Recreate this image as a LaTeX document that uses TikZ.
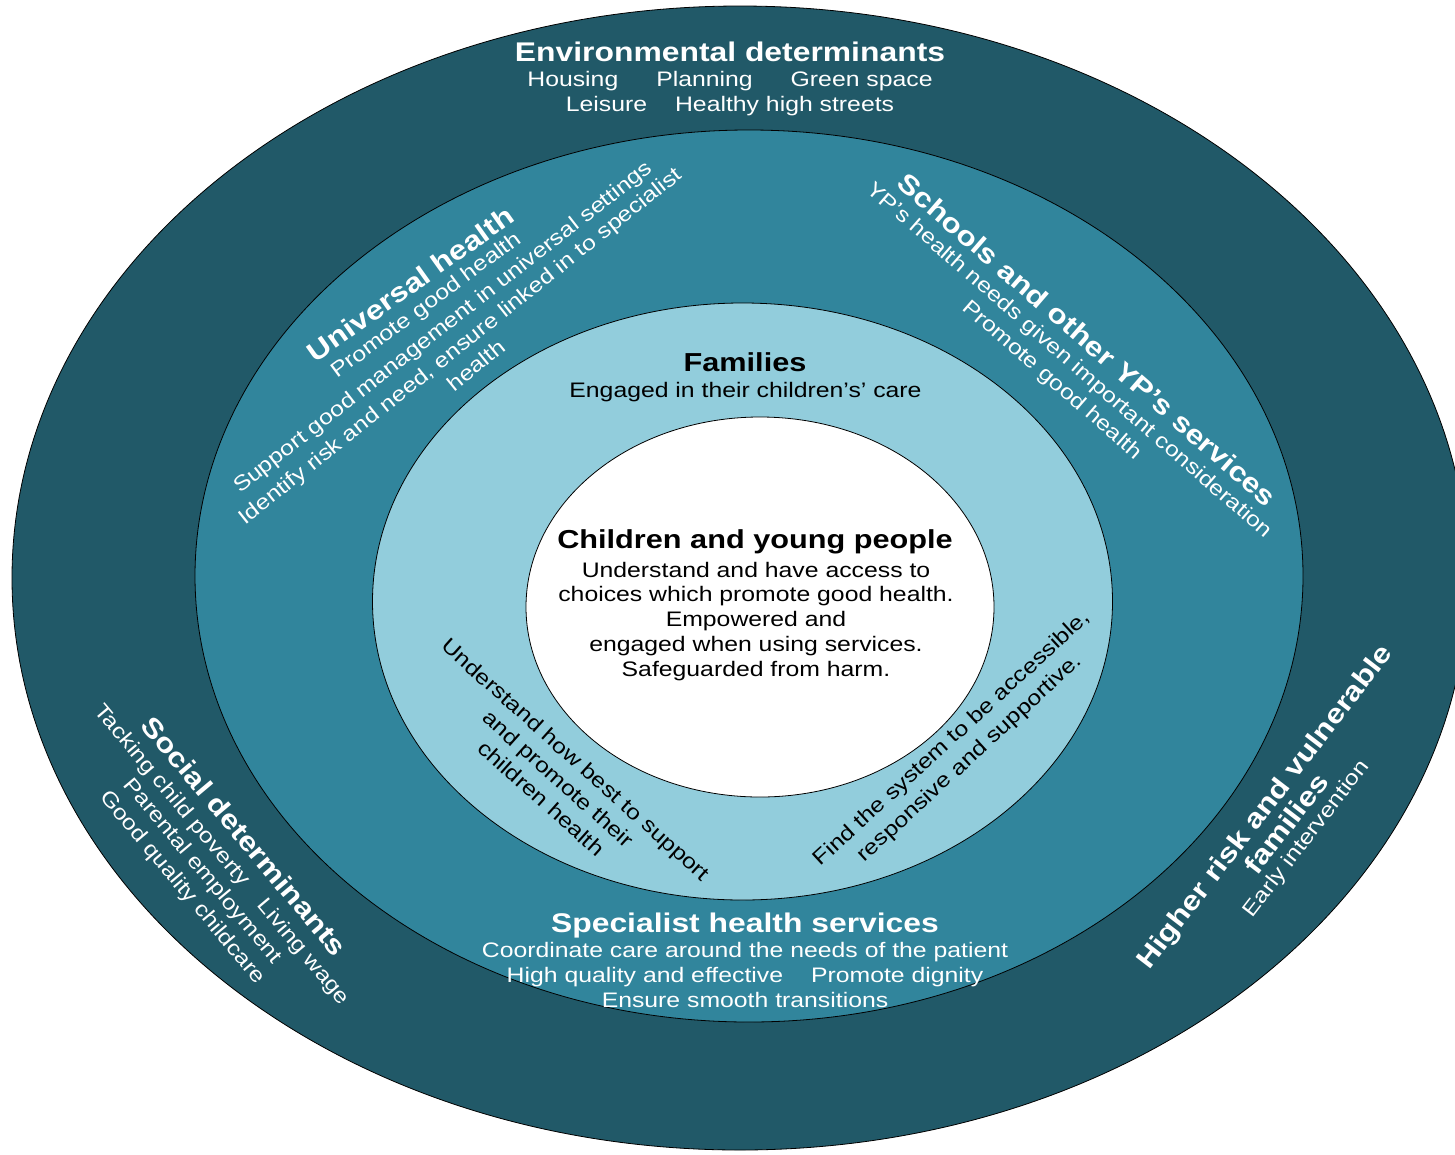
\documentclass[tikz,border=0pt]{standalone}
\usepackage{fontspec}
\setmainfont{Liberation Sans}[FakeStretch=1.18]
\definecolor{ringA}{HTML}{215968}
\definecolor{ringB}{HTML}{31859C}
\definecolor{ringC}{HTML}{92CDDC}
\begin{document}
\begin{tikzpicture}[x=1pt,y=1pt,
  hd/.style={font=\fontsize{27}{30}\selectfont\bfseries, inner sep=0pt, anchor=base},
  tx/.style={font=\fontsize{21}{25}\selectfont, inner sep=0pt, anchor=base},
  wt/.style={text=white}, bk/.style={text=black},
  ring/.style={draw=black, line width=0.8pt}]
\useasboundingbox (0,0) rectangle (1455,-1154);
\clip (0,0) rectangle (1455,-1154);
\fill[white] (0,0) rectangle (1455,-1154);
% rings
\path[ring, fill=ringA] (740,-578) ellipse [x radius=728pt, y radius=572pt];
\path[ring, fill=ringB] (749,-576) ellipse [x radius=554pt, y radius=446pt];
\path[ring, fill=ringC] (742.5,-601.5) ellipse [x radius=370pt, y radius=298.5pt];
\path[ring, fill=white] (760,-607) ellipse [x radius=234pt, y radius=190pt];
% environmental
\node[hd,wt] (env1) at (730,-61.5) {Environmental determinants};
\node[tx,wt] (env2) at (730,-86.5) {Housing\hspace{38pt}Planning\hspace{38pt}Green space};
\node[tx,wt] (env3) at (730,-111.5) {Leisure\hspace{28pt}Healthy high streets};
% families
\node[hd,bk,font=\fontsize{26}{30}\selectfont\bfseries] (fam1) at (745,-371.5) {Families};
\node[tx,bk] (fam2) at (745.5,-397.5) {Engaged in their children’s’ care};
% children
\node[hd,bk,font=\fontsize{26}{30}\selectfont\bfseries] (cyp1) at (755,-548.5) {Children and young people};
\node[tx,bk] (cyp2) at (756,-577) {Understand and have access to};
\node[tx,bk] (cyp3) at (756,-601) {choices which promote good health.};
\node[tx,bk] (cyp4) at (756,-626) {Empowered and};
\node[tx,bk] (cyp5) at (756,-651) {engaged when using services.};
\node[tx,bk] (cyp6) at (756,-676) {Safeguarded from harm.};
% specialist
\node[hd,wt] (spec1) at (745,-932) {Specialist health services};
\node[tx,wt] (spec2) at (745,-957) {Coordinate care around the needs of the patient};
\node[tx,wt] (spec3) at (745,-982) {High quality and effective\hspace{28pt}Promote dignity};
\node[tx,wt] (spec4) at (745,-1007) {Ensure smooth transitions};
% universal health
\node[hd,wt,anchor=center,rotate=35.5] (uni1) at (410.5,-284) {Universal health};
\node[tx,wt,anchor=center,rotate=36.5] (uni2) at (426.5,-306) {Promote good health};
\node[tx,wt,anchor=center,rotate=38] (uni3) at (443.5,-328) {Support good management in universal settings};
\node[tx,wt,anchor=center,rotate=38.5] (uni4) at (461,-347) {Identify risk and need, ensure linked in to specialist};
\node[tx,wt,anchor=center,rotate=39] (uni5) at (476,-365) {health};
% schools
\begin{scope}[shift={(1081,-347)}, rotate=-41, transform shape]
  \node[hd,wt] (sch1) at (0,0) {Schools and other YP’s services};
  \node[tx,wt] (sch2) at (0,-24) {YP’s health needs given important consideration};
  \node[tx,wt] (sch3) at (0,-50) {Promote good health};
\end{scope}
% social
\begin{scope}[shift={(237,-842)}, rotate=-50, transform shape]
  \node[hd,wt] (soc1) at (0,0) {Social determinants};
  \node[tx,wt] (soc2) at (0,-26) {Tacking child poverty\hspace{24pt}Living wage};
  \node[tx,wt] (soc3) at (0,-51) {Parental employment};
  \node[tx,wt] (soc4) at (0,-77) {Good quality childcare};
\end{scope}
% higher risk
\begin{scope}[shift={(1271.5,-812)}, rotate=52.4, transform shape]
  \node[hd,wt] (hr1) at (0,0) {Higher risk and vulnerable};
  \node[hd,wt] (hr2) at (0,-28) {families};
  \node[tx,wt] (hr3) at (0,-50) {Early intervention};
\end{scope}
% understand
\begin{scope}[shift={(571,-765)}, rotate=-41.8, transform shape]
  \node[tx,bk] (und1) at (0,0) {Understand how best to support};
  \node[tx,bk] (und2) at (0,-26) {and promote their};
  \node[tx,bk] (und3) at (0,-52) {children health};
\end{scope}
% find
\begin{scope}[shift={(956,-743)}, rotate=42.5, transform shape]
  \node[tx,bk] (fnd1) at (0,0) {Find the system to be accessible,};
  \node[tx,bk] (fnd2) at (0,-26.5) {responsive and supportive.};
\end{scope}
\end{tikzpicture}
\end{document}
